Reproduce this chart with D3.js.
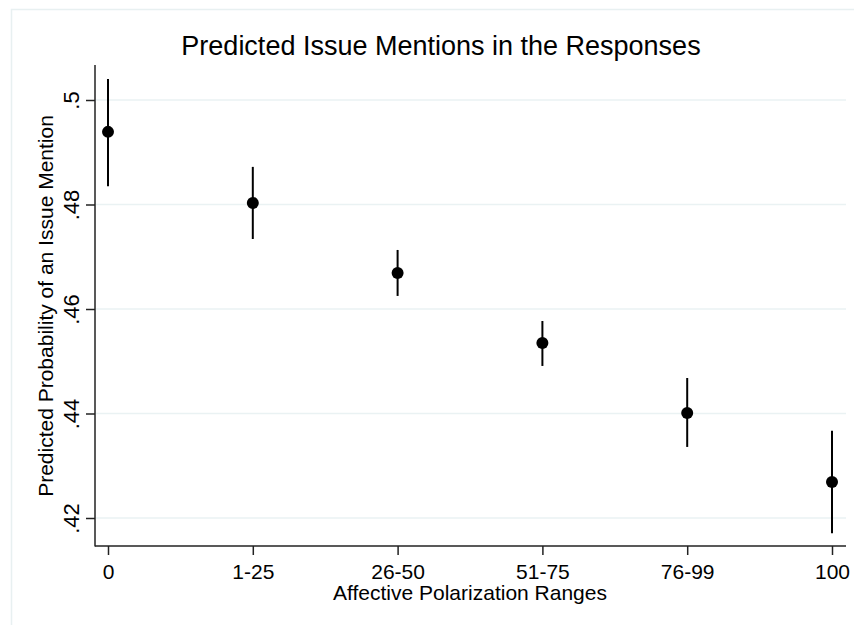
<!DOCTYPE html>
<html>
<head>
<meta charset="utf-8">
<script src="https://cdn.jsdelivr.net/npm/d3@7"></script>
<style>
  body { margin: 0; background: #fff; }
  text { font-family: "Liberation Sans", Arial, sans-serif; fill: #000; }
</style>
</head>
<body>
<script>
// data
var categories = ["0", "1-25", "26-50", "51-75", "76-99", "100"];
var estimates = [0.4939, 0.4803, 0.4669, 0.4535, 0.4401, 0.4269];
var lower = [0.4835, 0.4734, 0.4625, 0.4491, 0.4336, 0.4171];
var upper = [0.5040, 0.4872, 0.4713, 0.4577, 0.4468, 0.4367];
var yTicks = [0.42, 0.44, 0.46, 0.48, 0.5];

var width = 854, height = 625;

var svg = d3.select("body")
    .append("svg")
    .attr("width", width)
    .attr("height", height);

// light outer frame (graph region)
svg.append("rect")
    .attr("x", 11.5)
    .attr("y", 9.5)
    .attr("width", 900)
    .attr("height", 700)
    .style("fill", "none")
    .style("stroke", "#e8f0f1")
    .style("stroke-width", 1.5);

var x = d3.scalePoint()
    .domain(categories)
    .range([108, 832]);

var y = d3.scaleLinear()
    .domain([0.42, 0.5])
    .range([518, 100]);

// gridlines
svg.selectAll("line.grid")
    .data(yTicks)
    .enter()
    .append("line")
    .attr("class", "grid")
    .attr("x1", 96)
    .attr("x2", 846)
    .attr("y1", function(d) { return y(d); })
    .attr("y2", function(d) { return y(d); })
    .style("stroke", "#eaf2f3")
    .style("stroke-width", 1.5);

// y axis
var yAxis = d3.axisLeft(y)
    .tickValues(yTicks)
    .tickSize(9)
    .tickFormat(function(d) { return d3.format(".2f")(d).replace(/^0/, "").replace(/0$/, ""); });

var gy = svg.append("g")
    .attr("transform", "translate(95,0)")
    .call(yAxis);
gy.select(".domain").remove();
gy.append("line")
    .attr("x1", 0).attr("x2", 0)
    .attr("y1", 65).attr("y2", 546.5)
    .style("stroke", "#222")
    .style("stroke-width", 1.5);
gy.selectAll(".tick line").style("stroke", "#222").style("stroke-width", 1.5);
gy.selectAll(".tick text")
    .attr("transform", "rotate(-90)")
    .attr("x", 0)
    .attr("y", -16)
    .attr("dy", 0)
    .style("text-anchor", "middle")
    .style("font-size", "22px")
    .style("font-family", "Liberation Sans, Arial, sans-serif")
    .style("fill", "#000");

// x axis
var xAxis = d3.axisBottom(x).tickSize(9);
var gx = svg.append("g")
    .attr("transform", "translate(0,546)")
    .call(xAxis);
gx.select(".domain").remove();
gx.append("line")
    .attr("x1", 95).attr("x2", 846)
    .attr("y1", 0).attr("y2", 0)
    .style("stroke", "#222")
    .style("stroke-width", 1.5);
gx.selectAll(".tick line").style("stroke", "#222").style("stroke-width", 1.5);
gx.selectAll(".tick text")
    .attr("y", 33)
    .attr("dy", 0)
    .style("font-size", "21px")
    .style("font-family", "Liberation Sans, Arial, sans-serif")
    .style("fill", "#000");

// error bars
svg.selectAll("line.ci")
    .data(categories)
    .enter()
    .append("line")
    .attr("class", "ci")
    .attr("x1", function(d) { return x(d); })
    .attr("x2", function(d) { return x(d); })
    .attr("y1", function(d, i) { return y(upper[i]); })
    .attr("y2", function(d, i) { return y(lower[i]); })
    .style("stroke", "#000")
    .style("stroke-width", 2);

// points
svg.selectAll("circle.pt")
    .data(categories)
    .enter()
    .append("circle")
    .attr("class", "pt")
    .attr("cx", function(d) { return x(d); })
    .attr("cy", function(d, i) { return y(estimates[i]); })
    .attr("r", 6)
    .style("fill", "#000");

// titles
svg.append("text")
    .attr("x", 441)
    .attr("y", 55)
    .attr("text-anchor", "middle")
    .style("font-size", "27px")
    .text("Predicted Issue Mentions in the Responses");

svg.append("text")
    .attr("x", 470)
    .attr("y", 600)
    .attr("text-anchor", "middle")
    .style("font-size", "21px")
    .text("Affective Polarization Ranges");

svg.append("text")
    .attr("transform", "translate(53,306) rotate(-90)")
    .attr("text-anchor", "middle")
    .style("font-size", "21px")
    .text("Predicted Probability of an Issue Mention");
</script>
</body>
</html>
